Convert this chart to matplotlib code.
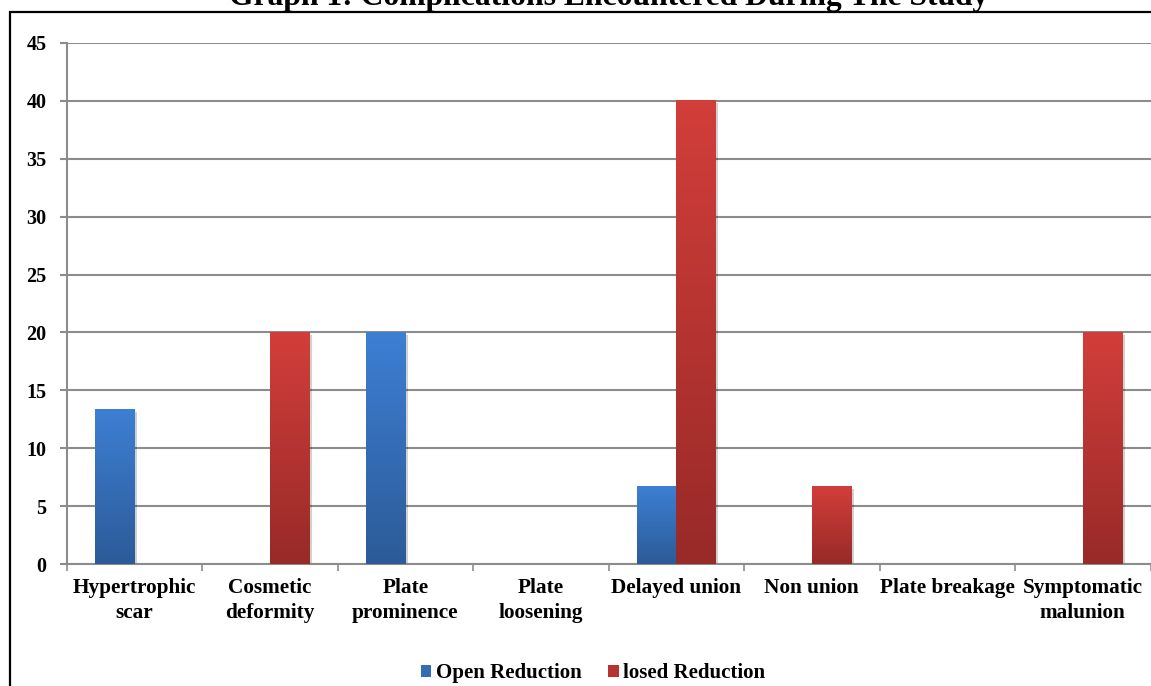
import matplotlib
matplotlib.use('Agg')
import matplotlib.pyplot as plt
import matplotlib.patheffects as pe
from matplotlib.patches import Rectangle, Patch
import numpy as np

plt.rcParams['font.family'] = ['Liberation Serif', 'DejaVu Serif']
plt.rcParams['font.weight'] = 'bold'

categories = ['Hypertrophic\nscar', 'Cosmetic\ndeformity', 'Plate\nprominence', 'Plate\nloosening',
              'Delayed union', 'Non union', 'Plate breakage', 'Symptomatic\nmalunion']
open_reduction = [13.33, 0, 20, 0, 6.67, 0, 0, 0]
closed_reduction = [0, 20, 0, 0, 40, 6.67, 0, 20]
series_names = ['Open Reduction', 'losed Reduction']

# gradient colours, top -> bottom
blue_top, blue_bot = np.array([0x3d, 0x7f, 0xd3]) / 255, np.array([0x2c, 0x5b, 0x98]) / 255
red_top, red_bot = np.array([0xd2, 0x3e, 0x3a]) / 255, np.array([0x98, 0x2a, 0x28]) / 255
grid_col = '#8c8c8c'


def gradient_bars(ax, bars, top, bot):
    for b in bars:
        h = b.get_height()
        if h <= 0:
            continue
        x0 = b.get_x()
        w = b.get_width()
        t = np.linspace(0, 1, 100)[:, None]
        img = (top * (1 - t) + bot * t)[:, None, :]
        ax.imshow(img, extent=[x0, x0 + w, 0, h], aspect='auto', origin='upper',
                  zorder=3, interpolation='bicubic')


fig = plt.figure(figsize=(11.51, 6.86), dpi=100)

# outer frame of the chart area
fig.patches.append(Rectangle((9.5 / 1151, -0.1), 1.2, 1 - 12 / 686 + 0.1, transform=fig.transFigure,
                             fill=False, edgecolor='black', linewidth=1.6, zorder=0))

fig.text(609 / 1151, 1 - 5.5 / 686, 'Graph 1: Complications Encountered During The Study',
         ha='center', va='baseline', fontsize=22.8, fontweight='bold')

ax = fig.add_axes([66.7 / 1151, 1 - 564 / 686, (1150.5 - 66.7) / 1151, (564 - 43) / 686])

x = np.arange(len(categories))
w = 0.29
shadow = [pe.SimplePatchShadow(offset=(2, -1.5), shadow_rgbFace='black', alpha=0.18), pe.Normal()]
b1 = ax.bar(x - w / 2, open_reduction, w, color=blue_top, zorder=2, path_effects=shadow)
b2 = ax.bar(x + w / 2, closed_reduction, w, color=red_top, zorder=2, path_effects=shadow)
gradient_bars(ax, b1, blue_top, blue_bot)
gradient_bars(ax, b2, red_top, red_bot)

ax.set_xlim(-0.5, len(categories) - 0.5)
ax.set_ylim(0, 45)
ax.set_yticks(np.arange(0, 46, 5))
ax.yaxis.grid(True, color=grid_col, linewidth=1.5, zorder=0)
ax.set_axisbelow(True)

ax.set_xticks(x)
ax.set_xticklabels(categories, fontsize=15.3, fontweight='bold', linespacing=1.32)
ax.set_xticks(np.arange(-0.5, len(categories), 1), minor=True)
ax.tick_params(axis='x', which='major', length=0, pad=10)
ax.tick_params(axis='x', which='minor', length=5, width=1.2, color=grid_col)
ax.tick_params(axis='y', length=5, width=1.5, color=grid_col, pad=9.6, labelsize=14.5)
for lab in ax.get_yticklabels():
    lab.set_fontweight('bold')

for s in ['top', 'right']:
    ax.spines[s].set_visible(False)
ax.spines['left'].set_color(grid_col)
ax.spines['left'].set_linewidth(1.5)
ax.spines['bottom'].set_color(grid_col)
ax.spines['bottom'].set_linewidth(1.5)

handles = [Patch(facecolor=(blue_top + blue_bot) / 2), Patch(facecolor=(red_top + red_bot) / 2)]
fig.legend(handles, series_names, loc='center', bbox_to_anchor=(593 / 1151, 1 - 673 / 686), ncol=2,
           frameon=False, prop={'size': 15, 'weight': 'bold'}, handlelength=0.5, handleheight=0.5,
           handletextpad=0.2, columnspacing=1.3, borderaxespad=0)

fig.savefig('out.png', dpi=100)
